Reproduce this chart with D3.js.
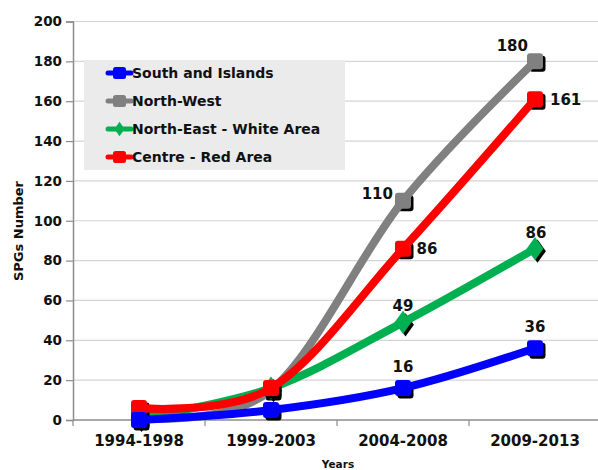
<!DOCTYPE html>
<html><head><meta charset="utf-8">
<script src="https://cdn.jsdelivr.net/npm/d3@7"></script>
<style>body{margin:0;background:#fff}svg{display:block}text{font-family:"DejaVu Sans",Verdana,sans-serif;font-weight:bold;fill:#111}</style>
</head><body>
<svg id="c" width="598" height="470"></svg>
<script>
const categories = ["1994-1998","1999-2003","2004-2008","2009-2013"];
const seriesNames = ["South and Islands","North-West","North-East - White Area","Centre - Red Area"];
const southValues = [0, 5, 16, 36];
const northWestValues = [1, 15, 110, 180];
const northEastValues = [1, 16, 49, 86];
const centreValues = [6, 16, 86, 161];
const colors = ["#0000ff","#808080","#00b050","#ff0000"];
const yTicks = [0,20,40,60,80,100,120,140,160,180,200];
const labelled = [[2,3],[2,3],[2,3],[2,3]];

const svg = d3.select("#c");
const x0 = 73, x1 = 601, yb = 420, yt = 21.5;
const x = d3.scalePoint().domain(categories).range([x0, x1]).padding(0.5);
const y = d3.scaleLinear().domain([0,200]).range([yb, yt]);

// gridlines
svg.append("g").selectAll("line").data(yTicks.filter(d=>d>0)).join("line")
  .attr("x1", x0).attr("x2", 598).attr("y1", d=>y(d)).attr("y2", d=>y(d))
  .attr("stroke", "#d4d4d4").attr("stroke-width", 1.2);

// y axis
const ya = svg.append("g").attr("transform", `translate(${x0},0)`)
  .call(d3.axisLeft(y).tickValues(yTicks).tickSize(7).tickPadding(4));
ya.select(".domain").attr("stroke", "#8c8c8c").attr("stroke-width", 1.5);
ya.selectAll(".tick line").attr("stroke", "#8c8c8c").attr("stroke-width", 1.2);
ya.selectAll("text").style("font-size", "13.5px").attr("fill", "#111");

// x axis
const xa = svg.append("g").attr("transform", `translate(0,${yb})`);
xa.append("line").attr("x1", x0).attr("x2", 598).attr("stroke", "#8c8c8c").attr("stroke-width", 1.5);
const bw = x.step();
xa.selectAll("line.t").data(d3.range(5)).join("line").attr("class","t")
  .attr("x1", i=>x0+i*bw).attr("x2", i=>x0+i*bw).attr("y1",0).attr("y2",6)
  .attr("stroke","#8c8c8c").attr("stroke-width",1.2);
xa.selectAll("text").data(categories).join("text")
  .attr("x", d=>x(d)).attr("y", 26).attr("text-anchor","middle")
  .style("font-size","15px").text(d=>d);

// axis titles
svg.append("text").attr("transform","translate(23,231) rotate(-90)").attr("text-anchor","middle")
  .style("font-size","13px").text("SPGs Number");
svg.append("text").attr("x",338).attr("y",468).attr("text-anchor","middle")
  .style("font-size","10.5px").text("Years");

const allSeries = [southValues, northWestValues, northEastValues, centreValues];
const line = d3.line().x((d,i)=>x(categories[i])).y(d=>y(d)).curve(d3.curveCatmullRom.alpha(0));

const order = [1,2,3,0];
function marker(g, si, cx, cy, shadow){
  const fill = shadow ? "#000" : colors[si];
  const dx = shadow ? 2.5 : 0, dy = shadow ? 2.5 : 0;
  if (si === 2) {
    g.append("path").attr("d", d3.symbol(d3.symbolDiamond, 170)())
      .attr("transform", `translate(${cx+dx},${cy+dy}) scale(1.2,0.95)`).attr("fill", fill);
  } else {
    g.append("rect").attr("x", cx-8+dx).attr("y", cy-8+dy).attr("width",16).attr("height",16)
      .attr("rx",3).attr("fill", fill);
  }
}
order.forEach(si=>{
  const g = svg.append("g");
  const vals = allSeries[si];
  vals.forEach((v,i)=>marker(g, si, x(categories[i]), y(v), true));
  g.append("path").attr("d", line(vals)).attr("fill","none").attr("stroke",colors[si])
    .attr("stroke-width",8).attr("stroke-linejoin","round");
  vals.forEach((v,i)=>marker(g, si, x(categories[i]), y(v), false));
});

// data labels
const lblOffsets = {
  "0-2":[0,-16,"middle"], "0-3":[0,-16.5,"middle"],
  "1-2":[-10,-1.5,"end"], "1-3":[-7,-10,"end"],
  "2-2":[0,-11,"middle"], "2-3":[1,-11,"middle"],
  "3-2":[13.5,5.5,"start"], "3-3":[15,6,"start"]
};
allSeries.forEach((vals,si)=>{
  labelled[si].forEach(i=>{
    const o = lblOffsets[si+"-"+i];
    svg.append("text").attr("x", x(categories[i])+o[0]).attr("y", y(vals[i])+o[1])
      .attr("text-anchor", o[2]).style("font-size","15px").text(vals[i]);
  });
});

// legend
const lg = svg.append("g");
lg.append("rect").attr("x",84).attr("y",60).attr("width",261).attr("height",110).attr("fill","#ebebeb");
seriesNames.forEach((n,i)=>{
  const ly = 73 + i*28;
  lg.append("line").attr("x1",108).attr("x2",131).attr("y1",ly).attr("y2",ly)
    .attr("stroke",colors[i]).attr("stroke-width",5).attr("stroke-linecap","round");
  if (i===2) {
    lg.append("path").attr("d", d3.symbol(d3.symbolDiamond, 60)()).attr("transform",`translate(119.5,${ly}) scale(1.2,1)`).attr("fill",colors[i]);
  } else {
    lg.append("rect").attr("x",113).attr("y",ly-6).attr("width",13).attr("height",12).attr("rx",2.5).attr("fill",colors[i]);
  }
  lg.append("text").attr("x",132).attr("y",ly+5).style("font-size","14px").text(n);
});
</script>
</body></html>
